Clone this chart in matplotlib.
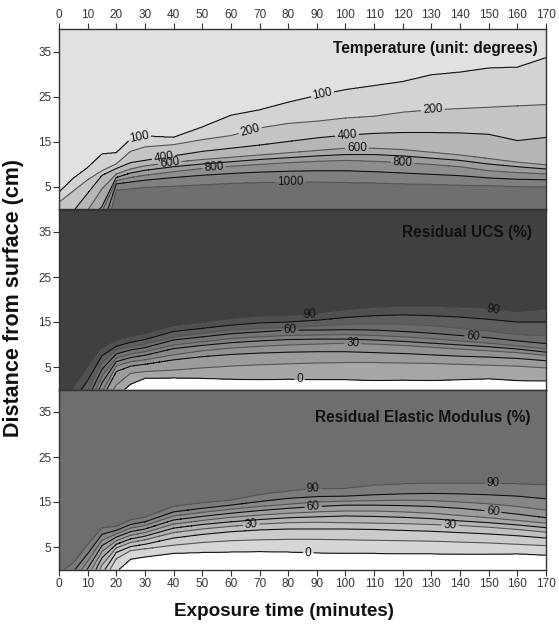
import numpy as np
import matplotlib
matplotlib.use("Agg")
import matplotlib.pyplot as plt

plt.rcParams['font.family'] = ['Liberation Sans', 'DejaVu Sans']

# ---------------- data (depth in cm of each contour level vs. exposure time) ----------------
times = [0, 5, 10, 15, 20, 25, 30, 40, 50, 60, 70, 80, 90, 100, 110, 120, 130, 140, 150, 160, 170]

temp_levels = [100, 200, 400, 600, 700, 800, 900, 1000]
temp_depths = [
    [3.7, 6.8, 9.2, 12.2, 12.5, 15.5, 16.2, 15.9, 18.2, 20.8, 22.0, 23.7, 25.2, 26.5, 27.4, 28.3, 29.8, 30.4, 31.3, 31.5, 33.6],
    [1.5, 4.0, 6.5, 8.5, 10.0, 12.8, 13.8, 14.3, 15.4, 16.3, 18.0, 19.0, 19.5, 20.2, 20.6, 21.5, 22.0, 22.3, 22.6, 22.9, 23.2],
    [-3, -0.5, 3.5, 7.5, 9.0, 10.3, 10.8, 11.8, 12.8, 13.5, 14.2, 15.0, 15.8, 16.4, 16.8, 17.0, 17.0, 16.9, 16.6, 15.2, 15.9],
    [-6, -3, -0.3, 4.5, 7.8, 8.9, 9.6, 10.4, 11.0, 11.5, 12.0, 12.5, 13.0, 13.5, 13.5, 13.2, 12.6, 12.0, 11.2, 10.4, 9.8],
    [-8, -5.5, -2.5, 0.5, 7.0, 8.0, 8.6, 9.4, 10.0, 10.5, 11.0, 11.4, 11.8, 12.1, 12.1, 11.8, 11.3, 10.8, 10.0, 9.4, 8.9],
    [-10, -7.5, -4.5, -0.5, 6.3, 7.0, 7.5, 8.3, 9.0, 9.5, 9.9, 10.3, 10.6, 10.8, 10.6, 10.3, 9.9, 9.4, 8.5, 8.1, 7.8],
    [-12, -9.5, -6.5, -4, 5.6, 6.0, 6.4, 7.0, 7.5, 7.9, 8.2, 8.4, 8.5, 8.5, 8.3, 8.0, 7.7, 7.4, 6.9, 6.6, 6.5],
    [-14, -11.5, -10, -8, 4.2, 4.5, 4.8, 5.1, 5.4, 5.7, 5.9, 6.0, 6.0, 5.9, 5.8, 5.6, 5.5, 5.3, 5.2, 5.0, 4.9],
]

pct_levels = [0, 10, 20, 30, 40, 50, 60, 70, 80, 90]
ucs_depths = [
    [-21, -19, -14, -6, -1.5, 1.2, 2.5, 2.6, 2.5, 2.3, 2.2, 2.3, 2.2, 2.2, 2.0, 2.1, 2.0, 2.2, 2.4, 2.0, 1.9],
    [-19, -17, -12, -4, 1.0, 3.6, 4.0, 4.3, 4.8, 5.2, 5.5, 5.7, 5.9, 6.0, 6.0, 5.9, 5.8, 5.6, 5.4, 5.2, 4.8],
    [-17, -15, -10, -2, 4.0, 5.2, 5.6, 6.6, 7.3, 7.8, 8.1, 8.3, 8.4, 8.4, 8.2, 8.0, 7.7, 7.4, 7.2, 6.9, 6.4],
    [-15, -13, -8, -0.5, 5.2, 6.2, 6.6, 7.7, 8.6, 9.2, 9.6, 9.9, 10.1, 10.3, 10.1, 9.8, 9.4, 9.0, 8.6, 8.2, 7.6],
    [-13, -11, -6, 1.5, 6.2, 7.1, 7.6, 9.1, 9.8, 10.4, 10.8, 11.1, 11.2, 11.2, 11.0, 10.7, 10.3, 9.9, 9.5, 9.0, 8.3],
    [-11, -9, -4, 3.0, 7.0, 7.9, 8.4, 9.9, 10.6, 11.3, 11.7, 12.0, 12.1, 12.2, 12.0, 11.7, 11.3, 10.8, 10.3, 9.7, 9.0],
    [-9, -7, -2, 4.5, 7.9, 8.8, 9.3, 11.0, 11.7, 12.4, 12.8, 13.2, 13.2, 13.3, 13.2, 12.9, 12.5, 12.0, 11.5, 10.8, 10.2],
    [-7, -5, -0.3, 6.0, 8.7, 9.6, 10.1, 11.7, 12.5, 13.2, 13.6, 13.8, 14.1, 14.5, 14.6, 14.5, 14.2, 13.6, 13.0, 12.2, 11.9],
    [-5, -2.5, 2.0, 7.5, 9.6, 10.5, 11.1, 12.9, 13.6, 14.3, 14.8, 15.0, 15.4, 16.0, 16.4, 16.6, 16.4, 16.1, 15.6, 15.0, 15.0],
    [-3, 0, 4.5, 9.0, 10.6, 11.5, 12.1, 13.9, 14.6, 15.5, 16.0, 16.1, 16.7, 17.4, 18.0, 18.2, 18.2, 18.0, 17.8, 17.0, 17.6],
]

em_depths = [
    [-19, -16.5, -11.5, -5, -0.5, 2.3, 2.8, 3.6, 3.8, 3.9, 4.0, 3.9, 3.7, 3.6, 3.6, 3.5, 3.5, 3.4, 3.4, 3.5, 3.2],
    [-17, -14.5, -9.5, -3, 2.4, 4.2, 4.6, 5.4, 6.0, 6.4, 6.6, 6.7, 6.7, 6.6, 6.5, 6.4, 6.3, 6.1, 5.9, 5.6, 5.3],
    [-15, -12.5, -7.5, -1, 3.8, 5.1, 5.6, 7.0, 7.8, 8.4, 8.8, 9.0, 9.0, 9.0, 8.9, 8.7, 8.5, 8.2, 7.9, 7.5, 7.0],
    [-13, -10.5, -5.5, 1.0, 4.8, 6.0, 6.6, 8.2, 9.0, 9.6, 10.1, 10.4, 10.5, 10.4, 10.3, 10.2, 10.0, 9.8, 9.4, 8.9, 8.3],
    [-11, -8.5, -3.5, 2.6, 5.6, 6.8, 7.4, 9.2, 10.0, 10.6, 11.1, 11.5, 11.7, 11.9, 11.8, 11.6, 11.3, 10.8, 10.4, 9.9, 9.3],
    [-9, -6.5, -1.5, 4.0, 6.4, 7.6, 8.2, 10.1, 10.9, 11.6, 12.1, 12.5, 12.8, 13.0, 13.0, 12.8, 12.5, 12.0, 11.5, 10.9, 10.3],
    [-7, -4.5, 0.2, 5.3, 7.2, 8.4, 9.0, 11.0, 11.8, 12.5, 13.1, 13.6, 14.0, 14.3, 14.3, 14.2, 14.0, 13.6, 13.0, 12.3, 11.5],
    [-5, -2.5, 1.8, 6.5, 7.9, 9.2, 9.8, 11.9, 12.7, 13.4, 14.0, 14.5, 15.0, 15.2, 15.3, 15.4, 15.3, 15.0, 14.6, 14.0, 13.2],
    [-3, -0.5, 3.5, 7.8, 8.7, 10.0, 10.6, 12.8, 13.6, 14.3, 15.1, 15.8, 16.2, 16.3, 16.6, 16.8, 16.9, 16.8, 16.6, 16.3, 15.7],
    [-1, 1.5, 5.5, 9.2, 9.6, 11.0, 11.6, 14.0, 14.8, 15.4, 16.6, 17.4, 18.0, 18.0, 18.7, 19.0, 19.2, 19.2, 19.2, 19.0, 18.8],
]

x_ticks = list(range(0, 171, 10))
y_ticks = [5, 15, 25, 35]
titles = ["Temperature (unit: degrees)", "Residual UCS (%)", "Residual Elastic Modulus (%)"]

temp_label_pos = {100: [(28, 16.1), (92, 25.4)], 200: [(66.7, 17.7), (130.5, 22.0)],
                  400: [(36.5, 11.7), (100.5, 16.5)], 600: [(38.7, 10.3), (104, 13.9)],
                  800: [(54, 9.9), (120, 10.3)], 1000: [(80.6, 6.1)]}
ucs_label_pos = {90: [(87.6, 16.6), (151.5, 17.7)], 60: [(80.6, 13.2), (144.5, 11.7)],
                 30: [(102.6, 10.3)], 0: [(84, 2.2)]}
em_label_pos = {90: [(88.7, 18.1), (151.5, 19.2)], 60: [(88.7, 14.3), (151.5, 13.2)],
                30: [(67, 10.6), (136.5, 9.9)], 0: [(87, 3.6)]}

temp_fill = ['#e1e1e1', '#d3d3d3', '#c5c5c5', '#b6b6b6', '#a9a9a9', '#9c9c9c', '#8e8e8e', '#808080', '#6f6f6f']
ucs_fill = ['#ffffff', '#a6a6a6', '#9c9c9c', '#929292', '#888888', '#7e7e7e', '#747474', '#6a6a6a',
            '#5e5e5e', '#505050', '#404040']
em_fill = ['#ffffff', '#d6d6d6', '#cbcbcb', '#c0c0c0', '#b4b4b4', '#a8a8a8', '#9d9d9d', '#929292',
           '#878787', '#7b7b7b', '#6e6e6e']


def build_field(levels, depth_table, deep_value, far_value):
    t_fine = np.linspace(0, 170, 681)
    d_fine = np.linspace(0, 40, 401)
    Z = np.zeros((d_fine.size, t_fine.size))
    tab = np.array(depth_table, dtype=float)
    for j, t in enumerate(t_fine):
        dep = np.array([np.interp(t, times, row) for row in tab])
        order = np.argsort(dep)
        xp = np.concatenate([[-80.0], dep[order], [120.0]])
        fp = np.concatenate([[deep_value], np.array(levels, float)[order], [far_value]])
        Z[:, j] = np.interp(d_fine, xp, fp)
    return t_fine, d_fine, Z


fig = plt.figure(figsize=(5.59, 6.31), dpi=100)
W = 559.0
H = 631.0
left = 59 / W
width = (546 - 59) / W
tops = [29, 209.5, 389.5]
ph = 180.0

panels = [
    (temp_levels, temp_depths, 1500, 0, [0] + temp_levels + [1500], temp_fill, temp_label_pos),
    (pct_levels, ucs_depths, -50, 100, [-50] + pct_levels + [100], ucs_fill, ucs_label_pos),
    (pct_levels, em_depths, -50, 100, [-50] + pct_levels + [100], em_fill, em_label_pos),
]
title_pos = [(0.983, 0.889), (0.971, 0.875), (0.969, 0.847)]

line_cols = ['#111111', '#555555']
for i, (lv, tab, deep_v, far_v, flevels, fcols, lpos) in enumerate(panels):
    top = tops[i]
    ax = fig.add_axes([left, 1 - (top + ph) / H, width, ph / H])
    T, D, Z = build_field(lv, tab, deep_v, far_v)
    ax.contourf(T, D, Z, levels=flevels, colors=fcols)
    for k, lev in enumerate(lv):
        cs = ax.contour(T, D, Z, levels=[lev], colors=[line_cols[k % 2]], linewidths=0.8)
        if lev in lpos:
            ax.clabel(cs, manual=lpos[lev], fmt='%d', fontsize=8.5, inline=True,
                      inline_spacing=2, colors='#111111')
    ax.set_xlim(0, 170)
    ax.set_ylim(0, 40)
    ax.set_yticks(y_ticks)
    ax.set_xticks(x_ticks)
    ax.tick_params(axis='y', direction='out', length=4, width=0.8, labelsize=8.5,
                   labelcolor='#333333', color='#333333', pad=1.5)
    if i == 0:
        ax.tick_params(axis='x', which='both', top=True, labeltop=True, bottom=False,
                       labelbottom=False, direction='out', length=4, width=0.8,
                       labelsize=8.5, labelcolor='#333333', color='#333333', pad=2)
    elif i == 2:
        ax.tick_params(axis='x', which='both', top=False, labeltop=False, bottom=True,
                       labelbottom=True, direction='out', length=4, width=0.8,
                       labelsize=8.5, labelcolor='#333333', color='#333333', pad=2)
    else:
        ax.tick_params(axis='x', which='both', top=False, labeltop=False, bottom=False,
                       labelbottom=False)
    for s in ax.spines.values():
        s.set_linewidth(1.0)
        s.set_color('#333333')
    ax.text(title_pos[i][0], title_pos[i][1], titles[i], transform=ax.transAxes, ha='right',
            va='center', fontsize=11.2, fontweight='bold', color='#111111')

fig.text(14 / W, 1 - 298 / H, "Distance from surface (cm)", rotation=90, ha='center', va='center',
         fontsize=15.5, fontweight='bold', color='#111111')
fig.text(284 / W, 1 - 612 / H, "Exposure time (minutes)", ha='center', va='center',
         fontsize=13.6, fontweight='bold', color='#111111')

fig.savefig("out.png", dpi=100)
